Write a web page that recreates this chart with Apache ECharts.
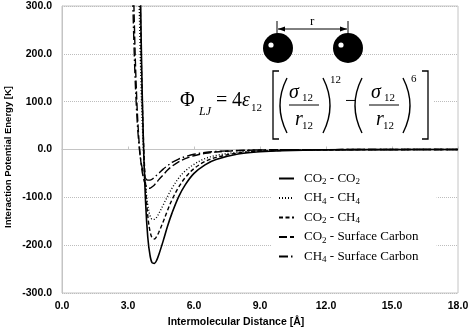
<!DOCTYPE html>
<html>
<head>
<meta charset="utf-8">
<script src="https://cdn.jsdelivr.net/npm/echarts@6/dist/echarts.min.js"></script>
<style>
  html, body { margin: 0; padding: 0; background: #fff; }
  #lj_graph { width: 472px; height: 334px; }
</style>
</head>
<body>
<div id="lj_graph"></div>
<script>
// distances [A] and potential energies [K]
var distance = [3.1, 3.2, 3.3, 3.4, 3.5, 3.6, 3.7, 3.8, 3.9, 4.0, 4.1, 4.2, 4.3, 4.4, 4.6, 4.8, 5.0, 5.3, 5.6, 6.0, 6.5, 7.0, 8.0, 9.0, 10.0, 12.0, 15.0, 18.0];
var co2_co2 = [null, null, null, null, 568, 227, 16, -111, -184, -221, -237, -238, -232, -220, -191, -160, -133, -99, -74, -50, -32, -21, -9.4, -4.7, -2.5, -0.8, -0.2, -0.1];
var ch4_ch4 = [null, null, null, null, 325, 124, 0, -74, -116, -138, -146, -146, -142, -134, -116, -98, -81, -60, -45, -31, -19, -12.5, -5.7, -2.8, -1.5, -0.5, -0.1, 0];
var co2_ch4 = [null, null, null, null, 476, 198, 25, -79, -139, -171, -185, -187, -182, -173, -151, -127, -105, -79, -59, -40, -25, -16.5, -7.5, -3.7, -2.0, -0.7, -0.2, -0.1];
var co2_surf = [834, 468, 242, 103, 18, -32, -60, -74, -80, -81, -78, -74, -69, -63, -53, -43, -35, -26, -19, -13, -8.1, -5.2, -2.4, -1.2, -0.6, -0.2, -0.1, 0];
var ch4_surf = [627, 350, 178, 73, 9, -28, -49, -60, -64, -64, -62, -58, -54, -50, -41, -34, -27, -20, -15, -10, -6.3, -4.1, -1.9, -0.9, -0.5, -0.2, 0, 0];

var seriesNames = ['CO2 - CO2', 'CH4 - CH4', 'CO2 - CH4', 'CO2 - Surface Carbon', 'CH4 - Surface Carbon'];
var seriesValues = [co2_co2, ch4_ch4, co2_ch4, co2_surf, ch4_surf];
var dashTypes = ['solid', [1, 2], [4, 2.5], [8, 3], [9, 3, 1.5, 3]];
var lineWidths = [1.6, 1.4, 1.4, 1.4, 1.4];

var xTicks = {min: 0, max: 18, interval: 3};
var yTicks = {min: -300, max: 300, interval: 100};

function pairs(vals) {
  return distance.map(function (d, i) { return [d, vals[i]]; });
}

var serif = '"Liberation Serif", "DejaVu Serif", serif';
var sans = '"Liberation Sans", Arial, sans-serif';

function txt(s, x, y, size, italic) {
  return {
    type: 'text', z: 102,
    style: {text: s, x: x, y: y, fill: '#000', verticalAlign: 'middle',
      font: (italic ? 'italic ' : '') + size + 'px ' + serif}
  };
}
function paren(xEnd, xCtl) {
  return {type: 'bezierCurve', z: 102,
    shape: {x1: xEnd, y1: 78, x2: xEnd, y2: 133, cpx1: xCtl, cpy1: 105.5},
    style: {stroke: '#000', lineWidth: 1.4, fill: null}};
}
function seg(x1, y1, x2, y2, w) {
  return {type: 'line', z: 102, shape: {x1: x1, y1: y1, x2: x2, y2: y2},
    style: {stroke: '#000', lineWidth: w || 1}};
}

var graphics = [
  // y axis title
  {type: 'text', x: 8, y: 157, rotation: Math.PI / 2,
    style: {text: 'Interaction Potential Energy [K]', fill: '#000', align: 'center', verticalAlign: 'middle',
      font: 'bold 9.5px ' + sans}},
  // formula box
  {type: 'rect', z: 101, shape: {x: 172, y: 67, width: 262, height: 77}, style: {fill: '#fff'}},
  txt('\u03A6', 180, 101, 20), txt('LJ', 199, 112, 12, true),
  txt('=', 216, 101, 20), txt('4', 232, 101, 20), txt('\u03B5', 242, 101, 20, true),
  txt('12', 251, 108, 11),
  {type: 'polyline', z: 102, shape: {points: [[279, 71], [273, 71], [273, 139], [279, 139]]},
    style: {stroke: '#000', lineWidth: 1.3, fill: null}},
  paren(287, 273),
  txt('\u03C3', 289, 93, 20, true), txt('12', 302, 98.5, 11),
  seg(289, 105, 319, 105),
  txt('r', 295, 120, 20, true), txt('12', 302, 126.5, 11),
  paren(323, 337),
  txt('12', 330, 80, 11),
  txt('\u2212', 345, 102, 20),
  paren(362, 348),
  txt('\u03C3', 371, 93, 20, true), txt('12', 384, 98.5, 11),
  seg(369, 105, 399, 105),
  txt('r', 376, 120, 20, true), txt('12', 383, 126.5, 11),
  paren(403, 417),
  txt('6', 411, 79, 11),
  {type: 'polyline', z: 102, shape: {points: [[422, 71], [428, 71], [428, 139], [422, 139]]},
    style: {stroke: '#000', lineWidth: 1.3, fill: null}},
  // molecules
  {type: 'circle', z: 102, shape: {cx: 278, cy: 48, r: 15}, style: {fill: '#000'}},
  {type: 'circle', z: 102, shape: {cx: 348, cy: 48, r: 15}, style: {fill: '#000'}},
  {type: 'circle', z: 103, shape: {cx: 271, cy: 45, r: 2.6}, style: {fill: '#fff'}},
  {type: 'circle', z: 103, shape: {cx: 341, cy: 45, r: 2.6}, style: {fill: '#fff'}},
  seg(277, 21, 277, 35, 1), seg(348, 21, 348, 35, 1), seg(278, 29, 347, 29, 1),
  {type: 'polygon', z: 102, shape: {points: [[278, 29], [285, 26.5], [285, 31.5]]}, style: {fill: '#000'}},
  {type: 'polygon', z: 102, shape: {points: [[347, 29], [340, 26.5], [340, 31.5]]}, style: {fill: '#000'}},
  txt('r', 310, 22, 13)
];

var option = {
  animation: false,
  backgroundColor: '#fff',
  grid: {left: 62, right: 14, top: 6, bottom: 41, outerBoundsMode: 'none',
    show: true, borderColor: '#c4c4c4', borderWidth: 1},
  legend: {
    orient: 'vertical', left: 272, top: 168,
    padding: [4, 18, 6, 6], backgroundColor: '#fff', z: 101,
    itemWidth: 15, itemHeight: 12, itemGap: 5,
    itemStyle: {color: 'rgba(0,0,0,0)', borderWidth: 0, opacity: 0},
    data: seriesNames,
    formatter: function (name) { return name.replace(/([A-Z])(\d)/g, '$1{s|$2}'); },
    textStyle: {
      fontFamily: serif, fontSize: 13, color: '#000', padding: [0, 0, 0, 5],
      rich: {s: {fontFamily: serif, fontSize: 9, color: '#000', padding: [7, 0, 0, 0]}}
    }
  },
  xAxis: {
    type: 'value', min: xTicks.min, max: xTicks.max, interval: xTicks.interval,
    name: 'Intermolecular Distance [\u00C5]', nameLocation: 'middle', nameGap: 24,
    nameTextStyle: {fontFamily: sans, fontWeight: 'bold', fontSize: 10.5, color: '#000', padding: [0, 48, 0, 0]},
    axisLine: {lineStyle: {color: '#c4c4c4'}},
    axisTick: {inside: true, length: 3, lineStyle: {color: '#c4c4c4'}},
    axisLabel: {fontFamily: sans, fontWeight: 'bold', fontSize: 10.5, color: '#000', margin: 8,
      formatter: function (v) { return v.toFixed(1); }},
    splitLine: {show: false}
  },
  yAxis: {
    type: 'value', min: yTicks.min, max: yTicks.max, interval: yTicks.interval,
    axisLine: {show: true, lineStyle: {color: '#c4c4c4'}},
    axisTick: {show: false},
    axisLabel: {fontFamily: sans, fontWeight: 'bold', fontSize: 10.5, color: '#000', margin: 10,
      formatter: function (v) { return v.toFixed(1); }},
    splitLine: {lineStyle: {color: '#bdbdbd', type: [1, 1]}}
  },
  graphic: graphics,
  series: seriesNames.map(function (n, i) {
    return {
      name: n, type: 'line', data: pairs(seriesValues[i]),
      symbol: 'none', smooth: 0.35, clip: true,
      lineStyle: {color: '#000', width: lineWidths[i], type: dashTypes[i]},
      itemStyle: {color: '#000'}
    };
  })
};

var myChart = echarts.init(document.getElementById('lj_graph'));
myChart.setOption(option);
</script>
</body>
</html>
